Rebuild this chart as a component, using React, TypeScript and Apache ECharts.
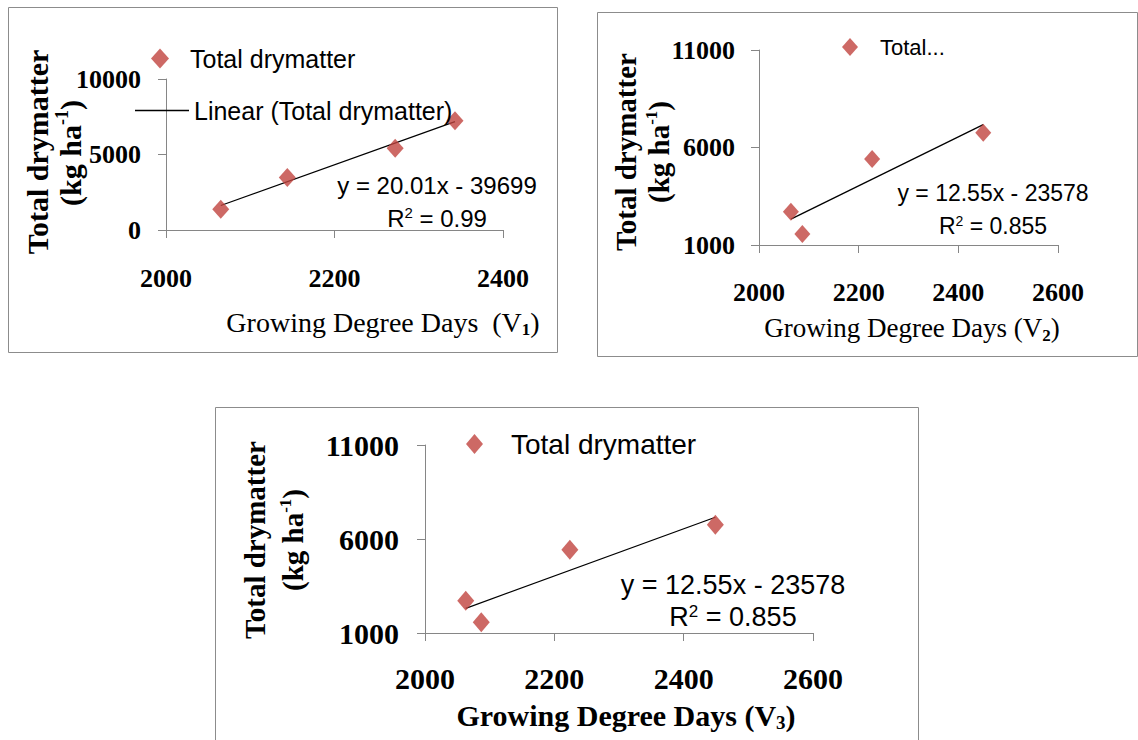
import React, { useEffect, useRef } from 'react';
import * as echarts from 'echarts';

// ---------- data ----------
const gddV1 = [2065, 2144, 2272, 2343];
const dryMatterV1 = [1370, 3470, 5420, 7230];
const gddV2 = [2064, 2087, 2227, 2450];
const dryMatterV2 = [2710, 1565, 5415, 6760];
const gddV3 = [2063, 2087, 2224, 2449];
const dryMatterV3 = [2717, 1566, 5425, 6752];

const trendV1 = { slope: 20.01, intercept: -39699, r2: '0.99' };
const trendV2 = { slope: 12.55, intercept: -23578, r2: '0.855' };
const trendV3 = { slope: 12.55, intercept: -23578, r2: '0.855' };

// [min, max, interval]
const xRangeV1 = [2000, 2400, 200];
const yRangeV1 = [0, 10000, 5000];
const xRangeV2 = [2000, 2600, 200];
const yRangeV2 = [1000, 11000, 5000];
const xRangeV3 = [2000, 2600, 200];
const yRangeV3 = [1000, 11000, 5000];

const seriesName = 'Total drymatter';
const trendName = 'Linear (Total drymatter)';
const yTitle = 'Total drymatter';
const xTitle = 'Growing Degree Days';

// ---------- styles ----------
const SERIF = "'Liberation Serif', 'Times New Roman', serif";
const SANS = "'Liberation Sans', Arial, sans-serif";
const RED = '#C0443F';
const AXIS = '#868686';

type PanelLayout = {
  grid: { left: number; top: number; width: number; height: number };
  tickFont: number;
  xMargin: number;
  yMargin: number;
  symbol: [number, number];
};

const layouts: PanelLayout[] = [
  { grid: { left: 166, top: 79, width: 337, height: 151 }, tickFont: 26, xMargin: 35, yMargin: 25, symbol: [17, 19] },
  { grid: { left: 759, top: 50, width: 299, height: 195 }, tickFont: 26, xMargin: 34, yMargin: 24, symbol: [16, 18] },
  { grid: { left: 425, top: 445, width: 388, height: 188 }, tickFont: 30, xMargin: 30, yMargin: 26, symbol: [17, 20] },
];

const panels = [
  { x: gddV1, y: dryMatterV1, trend: trendV1, xr: xRangeV1, yr: yRangeV1 },
  { x: gddV2, y: dryMatterV2, trend: trendV2, xr: xRangeV2, yr: yRangeV2 },
  { x: gddV3, y: dryMatterV3, trend: trendV3, xr: xRangeV3, yr: yRangeV3 },
];

function buildOption() {
  const grid: any[] = [];
  const xAxis: any[] = [];
  const yAxis: any[] = [];
  const series: any[] = [];

  panels.forEach((p, i) => {
    const L = layouts[i];
    grid.push({ ...L.grid, outerBoundsMode: 'none', containLabel: false });
    const axisCommon = {
      type: 'value',
      gridIndex: i,
      splitLine: { show: false },
      axisLine: { show: true, onZero: false, lineStyle: { color: AXIS, width: 1 } },
      axisTick: { show: true, inside: false, length: 8, lineStyle: { color: AXIS, width: 1 } },
    };
    xAxis.push({
      ...axisCommon,
      min: p.xr[0],
      max: p.xr[1],
      interval: p.xr[2],
      axisLabel: {
        margin: L.xMargin,
        color: '#000',
        fontFamily: SERIF,
        fontWeight: 'bold',
        fontSize: L.tickFont,
        formatter: (v: number) => String(v),
      },
    });
    yAxis.push({
      ...axisCommon,
      min: p.yr[0],
      max: p.yr[1],
      interval: p.yr[2],
      axisLabel: {
        margin: L.yMargin,
        color: '#000',
        fontFamily: SERIF,
        fontWeight: 'bold',
        fontSize: L.tickFont,
        formatter: (v: number) => String(v),
      },
    });
    series.push({
      type: 'scatter',
      name: seriesName,
      xAxisIndex: i,
      yAxisIndex: i,
      symbol: 'diamond',
      symbolSize: L.symbol,
      itemStyle: { color: RED },
      data: p.x.map((v, k) => [v, p.y[k]]),
      z: 3,
    });
    const xMin = Math.min(...p.x);
    const xMax = Math.max(...p.x);
    series.push({
      type: 'line',
      name: trendName,
      xAxisIndex: i,
      yAxisIndex: i,
      showSymbol: false,
      symbol: 'none',
      color: '#000',
      itemStyle: { color: '#000' },
      lineStyle: { color: '#000', width: 1.3 },
      data: [
        [xMin, p.trend.slope * xMin + p.trend.intercept],
        [xMax, p.trend.slope * xMax + p.trend.intercept],
      ],
      z: 2,
    });
  });

  const legendText = (size: number, pad: number) => ({
    fontFamily: SANS,
    fontSize: size,
    color: '#000',
    lineHeight: 22,
    padding: [0, 0, 0, pad],
  });

  const legend = [
    {
      left: 146, top: 41, orient: 'horizontal', selectedMode: false,
      itemWidth: 18, itemHeight: 20,
      data: [{ name: seriesName, icon: 'diamond' }],
      textStyle: legendText(25, 16),
    },
    {
      left: 130, top: 93, orient: 'horizontal', selectedMode: false,
      itemWidth: 54, itemHeight: 1.5,
      data: [{ name: trendName, icon: 'rect' }],
      textStyle: legendText(25, 0),
    },
    {
      left: 837, top: 31, orient: 'horizontal', selectedMode: false,
      itemWidth: 16, itemHeight: 18,
      data: [{ name: seriesName, icon: 'diamond' }],
      formatter: () => 'Total...',
      textStyle: legendText(22, 17),
    },
    {
      left: 461, top: 425, orient: 'horizontal', selectedMode: false,
      itemWidth: 17, itemHeight: 20,
      data: [{ name: seriesName, icon: 'diamond' }],
      textStyle: legendText(28, 23),
    },
  ];

  const rotText = (x: number, y: number, text: string, size: number) => ({
    type: 'text',
    x, y,
    rotation: Math.PI / 2,
    style: {
      text,
      fontFamily: SERIF,
      fontWeight: 'bold',
      fontSize: size,
      fill: '#000',
      align: 'center',
      verticalAlign: 'middle',
      rich: {
        a: { fontFamily: SERIF, fontWeight: 'bold', fontSize: size, lineHeight: size + 4, fill: '#000' },
        sup: { fontFamily: SERIF, fontWeight: 'bold', fontSize: Math.round(size * 0.6), verticalAlign: 'top', lineHeight: size + 4, fill: '#000' },
      },
    },
  });

  const xTitleText = (x: number, y: number, sub: string, size: number, bold: boolean, gap: string) => ({
    type: 'text',
    x, y,
    style: {
      text: `{a|${xTitle}${gap}(V}{sub|${sub}}{a|)}`,
      align: 'center',
      verticalAlign: 'middle',
      fill: '#000',
      rich: {
        a: { fontFamily: SERIF, fontWeight: bold ? 'bold' : 'normal', fontSize: size, lineHeight: size + 4, fill: '#000' },
        sub: { fontFamily: SERIF, fontWeight: 'bold', fontSize: Math.round(size * 0.62), lineHeight: size - 2, verticalAlign: 'bottom', fill: '#000' },
      },
    },
  });

  const trendText = (x: number, y1: number, y2: number, t: { slope: number; intercept: number; r2: string }, size: number) => [
    {
      type: 'text', x, y: y1,
      style: {
        text: `y = ${t.slope}x - ${Math.abs(t.intercept)}`,
        fontFamily: SANS, fontSize: size, fill: '#000', align: 'center', verticalAlign: 'middle',
      },
    },
    {
      type: 'text', x, y: y2,
      style: {
        text: `{a|R}{sup|2}{a| = ${t.r2}}`,
        align: 'center', verticalAlign: 'middle', fill: '#000',
        rich: {
          a: { fontFamily: SANS, fontSize: size, lineHeight: size + 2, fill: '#000' },
          sup: { fontFamily: SANS, fontSize: Math.round(size * 0.62), lineHeight: size + 2, verticalAlign: 'top', fill: '#000' },
        },
      },
    },
  ];

  const frame = (x: number, y: number, w: number, h: number) => ({
    type: 'rect',
    shape: { x, y, width: w, height: h },
    style: { fill: 'none', stroke: '#8c8c8c', lineWidth: 1 },
    z: -1,
  });

  const graphic = [
    frame(8.5, 7.5, 549, 345),
    frame(597.5, 12.5, 540, 344),
    frame(215.5, 407.5, 703, 400),
    rotText(37, 152, yTitle, 30),
    rotText(70, 153, '{a|(kg ha}{sup|-1}{a|)}', 30),
    rotText(626, 152, yTitle, 29),
    rotText(659, 152, '{a|(kg ha}{sup|-1}{a|)}', 29),
    rotText(255, 540, yTitle, 29),
    rotText(293, 540, '{a|(kg ha}{sup|-1}{a|)}', 29),
    xTitleText(383, 322, '1', 28, false, '  '),
    xTitleText(912, 328, '2', 27, false, ' '),
    xTitleText(626, 715, '3', 30, true, ' '),
    ...trendText(437, 185, 218, trendV1, 24),
    ...trendText(993, 193, 226, trendV2, 23),
    ...trendText(733, 585, 617, trendV3, 27),
  ];

  return {
    animation: false,
    backgroundColor: '#ffffff',
    grid,
    xAxis,
    yAxis,
    legend,
    series,
    graphic,
  };
}

export default function App() {
  const ref = useRef<HTMLDivElement>(null);
  useEffect(() => {
    if (!ref.current) return;
    const chart = echarts.init(ref.current, undefined, { renderer: 'svg' });
    chart.setOption(buildOption() as any);
    return () => chart.dispose();
  }, []);
  return (
    <div
      ref={ref}
      style={{ position: 'absolute', left: 0, top: 0, width: 1138, height: 740, background: '#fff' }}
    />
  );
}
